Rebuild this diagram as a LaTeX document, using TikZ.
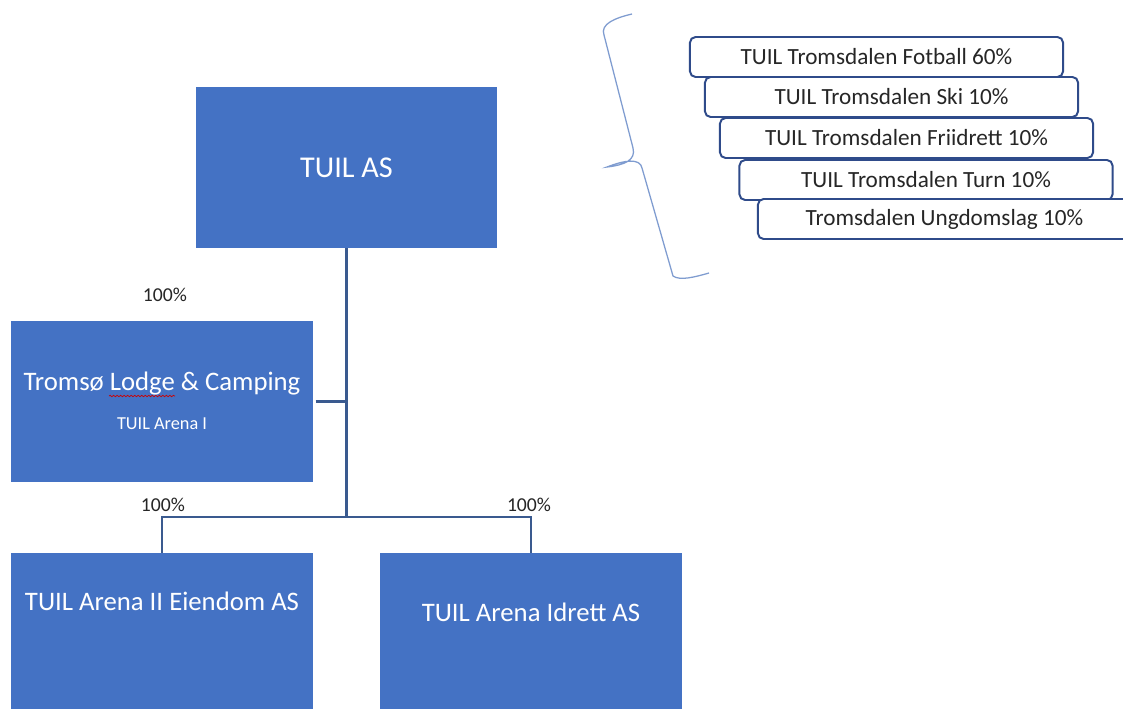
\documentclass[tikz,border=0pt]{standalone}
\usepackage{fontspec}
\setmainfont{Carlito}
\usetikzlibrary{positioning,decorations.pathmorphing}

\definecolor{boxblue}{HTML}{4472C4}
\definecolor{linkblue}{HTML}{3A5A8F}
\definecolor{ownerblue}{HTML}{2F4B8A}
\definecolor{bracecol}{HTML}{7F9CD0}
\definecolor{txtgray}{HTML}{262626}

\begin{document}
\begin{tikzpicture}[x=0.025cm, y=-0.025cm,
    company/.style={fill=boxblue, text=white, inner sep=0pt, align=center},
    owner/.style={draw=ownerblue, line width=1.4pt, rounded corners=4pt, fill=white,
        minimum width=9.325cm, minimum height=1cm, inner sep=0pt, text=txtgray,
        font=\fontsize{16.5}{19}\selectfont},
    pct/.style={text=txtgray, font=\fontsize{14}{16}\selectfont},
    link/.style={draw=linkblue, line width=1.6pt}]
    \useasboundingbox (0,0) rectangle (1123,709);
    \clip (0,0) rectangle (1123,709);
    \fill[white] (0,0) rectangle (1123,709);

    % companies
    \node[company, minimum width=7.525cm, minimum height=4.025cm,
        font=\fontsize{21.5}{25}\selectfont] (tuil) at (346.5,167.5) {TUIL AS};
    \node[company, minimum width=7.55cm, minimum height=4.025cm] (lodge) at (162,401.5) {};
    \node[company, minimum width=7.55cm, minimum height=5cm] (arenaII) at (162,653) {};
    \node[company, minimum width=7.55cm, minimum height=5cm] (idrett) at (531,653) {};

    \node[text=white, font=\fontsize{19}{22}\selectfont] (lodgetxt)
        at ([yshift=0.46cm]lodge.center) {Tromsø Lodge \& Camping};
    \node[text=white, font=\fontsize{13}{15}\selectfont] (lodgesub)
        at ([yshift=-0.56cm]lodge.center) {TUIL Arena I};
    \node[text=white, font=\fontsize{19}{22}\selectfont] (arenaIItxt)
        at ([yshift=-1.22cm]arenaII.north) {TUIL Arena II Eiendom AS};
    \node[text=white, font=\fontsize{19}{22}\selectfont] (idretttxt)
        at ([yshift=-1.5cm]idrett.north) {TUIL Arena Idrett AS};
    \draw[red!80!black, line width=0.5pt, decorate,
        decoration={snake, amplitude=0.5pt, segment length=2.5pt}] (109,396) -- (175,396);

    % connectors
    \coordinate (hub) at (346.5,517);
    \draw[link] (tuil.south) -- (hub);
    \draw[link] ([xshift=0.06cm]lodge.east) -- (lodge.east -| hub);
    \draw[link] (arenaII.north) |- (hub) -| (idrett.north);

    \node[pct] (pctlodge) at (165,295) {100\%};
    \node[pct] (pctarenaII) at (163,505) {100\%};
    \node[pct] (pctidrett) at (529,505) {100\%};

    % owners
    \node[owner] (fotball) at (876.5,57) {TUIL Tromsdalen Fotball 60\%};
    \node[owner] (ski) at (891.5,97) {TUIL Tromsdalen Ski 10\%};
    \node[owner] (friidrett) at (906.5,138) {TUIL Tromsdalen Friidrett 10\%};
    \node[owner] (turn) at (926,180) {TUIL Tromsdalen Turn 10\%};
    \node[owner] (ungdom) at (944.5,219) {Tromsdalen Ungdomslag 10\%};

    % brace
    \draw[bracecol, line width=0.9pt]
        (632,14) .. controls (615,18) and (600,24) .. (604,35)
        -- (633,148) .. controls (636,160) and (625,165) .. (607,167)
        .. controls (625,160) and (640,158) .. (642,168)
        -- (673,276) .. controls (680,281) and (695,277) .. (709,273);
\end{tikzpicture}
\end{document}
